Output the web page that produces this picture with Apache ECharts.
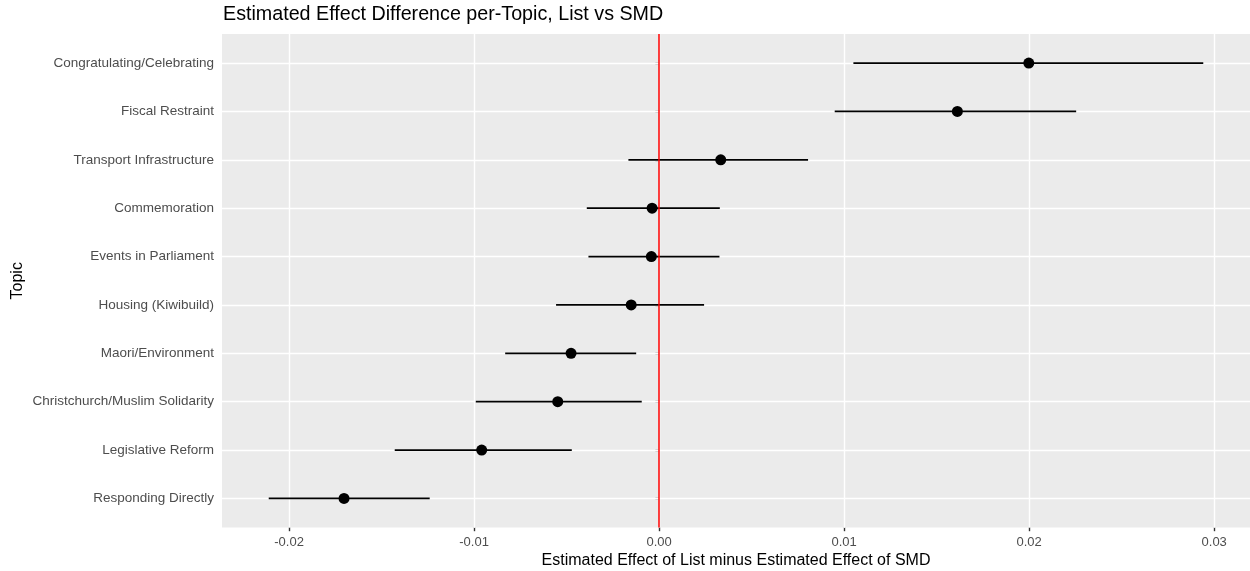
<!DOCTYPE html>
<html>
<head>
<meta charset="utf-8">
<script src="https://cdn.jsdelivr.net/npm/echarts@6/dist/echarts.min.js"></script>
<style>
  html, body { margin: 0; padding: 0; background: #fff; }
  #chart { width: 1250px; height: 571px; }
</style>
</head>
<body>
<div id="chart"></div>
<script>
// Topics, ordered bottom to top
const topics = [
  'Responding Directly',
  'Legislative Reform',
  'Christchurch/Muslim Solidarity',
  'Maori/Environment',
  'Housing (Kiwibuild)',
  'Events in Parliament',
  'Commemoration',
  'Transport Infrastructure',
  'Fiscal Restraint',
  'Congratulating/Celebrating'
];
// Point estimate of (List effect - SMD effect) and its interval
const estimate = [-0.01703, -0.00959, -0.00548, -0.00476, -0.00151, -0.00042, -0.00038, 0.00333, 0.01612, 0.01998];
const lower    = [-0.02110, -0.01429, -0.00991, -0.00832, -0.00557, -0.00382, -0.00391, -0.00166, 0.00949, 0.01050];
const upper    = [-0.01240, -0.00472, -0.00094, -0.00124, 0.00243, 0.00326, 0.00328, 0.00805, 0.02254, 0.02941];
// Axis breaks
const xTicks = [-0.02, -0.01, 0, 0.01, 0.02, 0.03];
const xMinorTicks = [-0.015, -0.005, 0.005, 0.015, 0.025];
const refLine = 0;

// Continuous scale padded by 5% of the data range on each side
const lo = Math.min(...lower), hi = Math.max(...upper);
const pad = (hi - lo) * 0.05;
const xMin = lo - pad, xMax = hi + pad;
// Discrete scale: positions 1..n padded by 0.6
const rows = topics.map((t, i) => i + 1);
const yMin = 0.4, yMax = topics.length + 0.6;

const FONT = 'Liberation Sans';
const chart = echarts.init(document.getElementById('chart'), null, { renderer: 'canvas' });

const gridLines = []
  .concat(xMinorTicks.map(v => ({ xAxis: v, lineStyle: { color: '#ffffff', width: 0.8, type: 'solid' } })))
  .concat(xTicks.map(v => ({ xAxis: v, lineStyle: { color: '#ffffff', width: 1.4, type: 'solid' } })))
  .concat(rows.map(v => ({ yAxis: v, lineStyle: { color: '#ffffff', width: 1.4, type: 'solid' } })));

chart.setOption({
  animation: false,
  backgroundColor: '#ffffff',
  title: {
    text: 'Estimated Effect Difference per-Topic, List vs SMD',
    left: 223, top: 5, padding: 0,
    textStyle: { fontFamily: FONT, fontSize: 19.7, fontWeight: 'normal', color: '#000000' }
  },
  grid: {
    left: 222, right: 0, top: 34, bottom: 43.5,
    outerBoundsMode: 'none', containLabel: false,
    show: true, backgroundColor: '#EBEBEB', borderWidth: 0
  },
  xAxis: {
    type: 'value', min: xMin, max: xMax,
    name: 'Estimated Effect of List minus Estimated Effect of SMD',
    nameLocation: 'middle', nameGap: 25, nameMoveOverlap: false,
    nameTextStyle: { fontFamily: FONT, fontSize: 16, color: '#000000' },
    axisLine: { show: false },
    splitLine: { show: false },
    axisTick: { show: true, customValues: xTicks, length: 3.7, lineStyle: { color: '#333333', width: 1.4 } },
    axisLabel: {
      customValues: xTicks, margin: 8,
      fontFamily: FONT, fontSize: 13, color: '#4D4D4D',
      formatter: v => v.toFixed(2)
    }
  },
  yAxis: {
    type: 'value', min: yMin, max: yMax,
    name: 'Topic', nameLocation: 'middle', nameGap: 196, nameRotate: 90, nameMoveOverlap: false,
    nameTextStyle: { fontFamily: FONT, fontSize: 16, color: '#000000' },
    axisLine: { show: false },
    splitLine: { show: false },
    axisTick: { show: true, customValues: rows, length: 3.7, lineStyle: { color: '#333333', width: 1.4 } },
    axisLabel: {
      customValues: rows, margin: 8,
      fontFamily: FONT, fontSize: 13.5, color: '#4D4D4D',
      formatter: v => topics[Math.round(v) - 1]
    }
  },
  series: [
    {
      // panel grid lines
      type: 'scatter', data: [], z: 1, silent: true,
      markLine: { z: 1, silent: true, symbol: 'none', label: { show: false }, animation: false, data: gridLines }
    },
    {
      // interval segments
      type: 'custom', z: 2, silent: true,
      data: topics.map((t, i) => [i + 1, lower[i], upper[i]]),
      encode: { x: [1, 2], y: 0 },
      renderItem: function (params, api) {
        const y = api.value(0);
        const p1 = api.coord([api.value(1), y]);
        const p2 = api.coord([api.value(2), y]);
        return {
          type: 'line',
          shape: { x1: p1[0], y1: p1[1], x2: p2[0], y2: p2[1] },
          style: { stroke: '#000000', lineWidth: 1.7 }
        };
      }
    },
    {
      // point estimates
      type: 'scatter', z: 3, silent: true,
      symbol: 'circle', symbolSize: 11,
      itemStyle: { color: '#000000', opacity: 1 },
      data: estimate.map((v, i) => [v, i + 1])
    },
    {
      // zero reference line
      type: 'scatter', data: [], z: 4, silent: true,
      markLine: {
        z: 4, silent: true, symbol: 'none', label: { show: false }, animation: false,
        data: [{ xAxis: refLine, lineStyle: { color: '#FF0000', width: 1.5, type: 'solid' } }]
      }
    }
  ]
});
</script>
</body>
</html>
